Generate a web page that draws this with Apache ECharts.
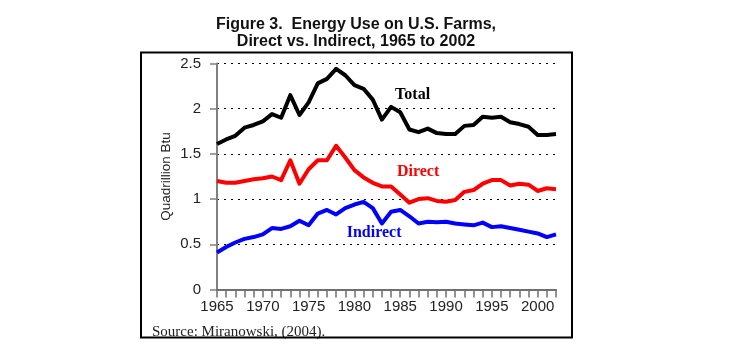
<!DOCTYPE html>
<html><head><meta charset="utf-8">
<script src="https://cdn.jsdelivr.net/npm/echarts@6/dist/echarts.min.js"></script>
<style>html,body{margin:0;padding:0;background:#fff}#c{width:730px;height:357px}</style>
</head><body><div id="c"></div>
<script>
const years = [1965,1966,1967,1968,1969,1970,1971,1972,1973,1974,1975,1976,1977,1978,1979,1980,1981,1982,1983,1984,1985,1986,1987,1988,1989,1990,1991,1992,1993,1994,1995,1996,1997,1998,1999,2000,2001,2002];
const total = [1.61,1.66,1.70,1.79,1.82,1.86,1.94,1.90,2.15,1.93,2.07,2.28,2.33,2.44,2.37,2.26,2.22,2.10,1.88,2.02,1.96,1.77,1.74,1.78,1.73,1.72,1.72,1.81,1.82,1.91,1.90,1.91,1.85,1.83,1.80,1.71,1.71,1.72];
const direct = [1.20,1.18,1.18,1.20,1.22,1.23,1.25,1.21,1.43,1.17,1.33,1.43,1.43,1.59,1.46,1.32,1.24,1.18,1.14,1.14,1.05,0.96,1.00,1.01,0.98,0.97,0.99,1.08,1.10,1.17,1.21,1.21,1.15,1.17,1.16,1.09,1.12,1.11];
const indirect = [0.41,0.47,0.52,0.56,0.58,0.61,0.68,0.67,0.70,0.76,0.71,0.84,0.88,0.83,0.90,0.94,0.97,0.90,0.73,0.86,0.88,0.81,0.73,0.75,0.745,0.75,0.73,0.72,0.71,0.74,0.69,0.70,0.68,0.66,0.64,0.62,0.58,0.61];
const seriesNames = ['Total','Direct','Indirect'];
const seriesColors = ['#000000','#ff0000','#0000ff'];
// label anchors in data coordinates [year, value]
const labelAnchors = [[1986.35, 2.15],[1986.95, 1.30],[1982.15, 0.63]];

const chart = echarts.init(document.getElementById('c'), null, {renderer:'canvas'});
const pairs = arr => years.map((y,i)=>[y, arr[i]]);
const allSeries = [total, direct, indirect];

const option = {
  animation: false,
  title: {
    text: 'Figure 3.  Energy Use on U.S. Farms,\nDirect vs. Indirect, 1965 to 2002',
    left: 356, top: 16, textAlign: 'center', padding: 0,
    textStyle: {fontFamily: 'Liberation Sans', fontWeight: 'bold', fontSize: 16, lineHeight: 17, color: '#111'}
  },
  grid: {left: 217, top: 63.5, width: 339, height: 226, containLabel: false},
  xAxis: {
    type: 'value', min: 1965, max: 2002, interval: 1,
    axisLine: {show: true, lineStyle: {color: '#707070', width: 2}},
    axisTick: {show: true, length: 8, lineStyle: {color: '#707070', width: 1.5}},
    axisLabel: {margin: 10, fontFamily: 'Liberation Sans', fontSize: 15, color: '#222',
      formatter: v => (v % 5 === 0 ? String(v) : '')},
    splitLine: {show: false}
  },
  yAxis: {
    type: 'value', min: 0, max: 2.5, interval: 0.5,
    name: 'Quadrillion Btu', nameLocation: 'middle', nameGap: 44, nameRotate: 90,
    nameTextStyle: {fontFamily: 'Liberation Sans', fontSize: 13.5, color: '#222'},
    axisLine: {show: true, lineStyle: {color: '#808080', width: 2}},
    axisTick: {show: true, length: 7, lineStyle: {color: '#808080', width: 1.5}},
    axisLabel: {margin: 16, fontFamily: 'Liberation Sans', fontSize: 15, color: '#222'},
    splitLine: {show: true, lineStyle: {color: '#000', width: 1, type: [2, 5]}}
  },
  graphic: [
    {type: 'rect', shape: {x: 141, y: 52.5, width: 431, height: 285}, style: {fill: 'none', stroke: '#000', lineWidth: 2}, z: 100, silent: true},
    {type: 'text', x: 152, y: 332, style: {text: 'Source: Miranowski, (2004).', font: '15px "Liberation Serif"', fill: '#222', verticalAlign: 'middle'}, silent: true}
  ],
  series: allSeries.map((arr, k) => ({
    name: seriesNames[k], type: 'line', data: pairs(arr),
    showSymbol: false, symbol: 'none', silent: true, z: 3 + k,
    lineStyle: {color: seriesColors[k], width: 4, join: 'round'},
    itemStyle: {color: seriesColors[k]},
    markPoint: {
      silent: true, symbol: 'circle', symbolSize: 1,
      itemStyle: {color: 'rgba(0,0,0,0)'},
      label: {show: true, position: 'inside', formatter: seriesNames[k],
        fontFamily: 'Liberation Serif', fontWeight: 'bold', fontSize: 16, color: seriesColors[k]},
      data: [{coord: labelAnchors[k]}]
    }
  }))
};
chart.setOption(option);
</script>
</body></html>
